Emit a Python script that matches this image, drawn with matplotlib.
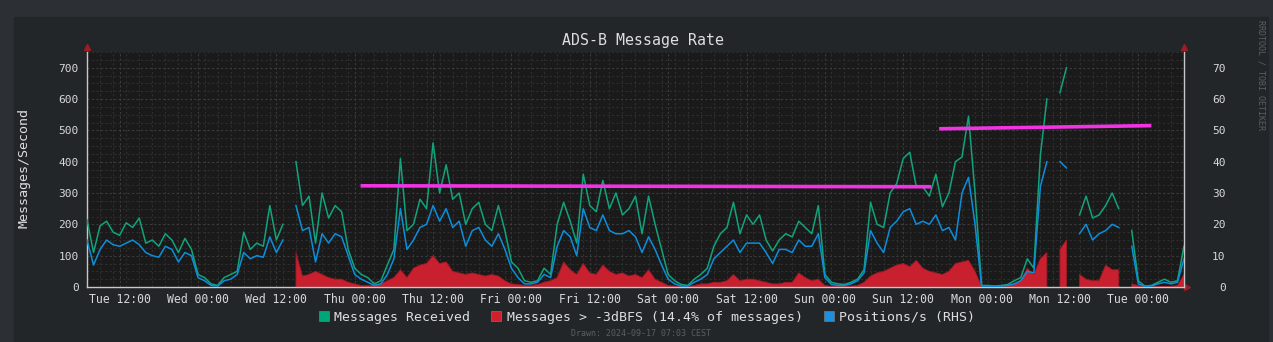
import numpy as np
import pandas as pd
import matplotlib
matplotlib.use('Agg')
import matplotlib.pyplot as plt
import matplotlib.dates as mdates
from matplotlib.patches import Rectangle, Patch
from matplotlib.ticker import MultipleLocator

nan = np.nan

# hourly samples, Tue 2024-09-10 07:00 -> Tue 2024-09-17 07:00
times = pd.date_range('2024-09-10 07:00', periods=169, freq='h')

# Messages Received (msg/s, LHS)
msgs_received = [
    215, 110, 195, 210, 175, 165, 205, 190, 220, 140,
    150, 130, 170, 150, 110, 155, 120, 40, 30, 10,
    5, 30, 40, 50, 175, 120, 140, 130, 260, 150,
    200, nan, 400, 260, 290, 140, 300, 220, 260, 240,
    120, 60, 40, 30, 10, 20, 70, 120, 410, 180,
    200, 280, 250, 460, 300, 390, 280, 300, 200, 250,
    270, 200, 180, 260, 180, 80, 60, 20, 15, 20,
    60, 40, 200, 270, 210, 140, 360, 260, 240, 340,
    250, 300, 230, 250, 290, 170, 290, 200, 120, 40,
    20, 8, 5, 25, 40, 60, 130, 170, 190, 270,
    170, 230, 200, 230, 150, 115, 150, 170, 160, 210,
    190, 170, 260, 40, 15, 10, 8, 15, 25, 55,
    270, 200, 190, 300, 330, 410, 430, 320, 320, 290,
    360, 256, 300, 400, 415, 545, 300, 5, 5, 3,
    5, 8, 20, 30, 90, 60, 420, 600, nan, 620,
    700, nan, 230, 290, 220, 230, 260, 300, 250, nan,
    180, 20, 3, 5, 15, 25, 15, 20, 130,
]

# Messages > -3dBFS (msg/s, LHS)
msgs_strong = [
    nan, nan, nan, nan, nan, nan, nan, nan, nan, nan,
    nan, nan, nan, nan, nan, nan, nan, nan, nan, nan,
    nan, nan, nan, nan, nan, nan, nan, nan, nan, nan,
    nan, nan, 110, 35, 40, 50, 40, 30, 25, 25,
    15, 10, 5, 5, 5, 10, 20, 30, 55, 30,
    60, 70, 75, 100, 75, 80, 50, 45, 40, 45,
    40, 35, 40, 35, 20, 10, 8, 5, 5, 8,
    15, 20, 30, 80, 55, 40, 75, 45, 40, 70,
    50, 40, 45, 35, 40, 30, 55, 25, 15, 5,
    3, 2, 2, 5, 10, 10, 15, 15, 20, 40,
    20, 25, 25, 20, 15, 10, 10, 15, 15, 45,
    30, 20, 25, 5, 2, 2, 3, 3, 5, 15,
    35, 45, 50, 60, 70, 75, 65, 85, 60, 50,
    45, 40, 50, 75, 80, 85, 50, 3, 0, 0,
    0, 2, 10, 20, 60, 40, 90, 110, nan, 120,
    150, nan, 40, 25, 20, 20, 70, 55, 55, nan,
    10, 5, 0, 0, 0, 2, 2, 5, 40,
]

# Positions/s (RHS)
positions = [
    15.0, 7.0, 12.0, 15.0, 13.5, 13.0, 14.0, 15.0, 13.5, 11.0,
    10.0, 9.5, 13.0, 12.0, 8.0, 11.0, 10.0, 3.0, 2.0, 0.5,
    0.3, 2.0, 2.5, 4.0, 11.0, 9.0, 10.0, 9.5, 16.0, 11.0,
    15.0, nan, 26.0, 18.0, 19.0, 8.0, 17.0, 14.0, 17.0, 16.0,
    10.0, 4.0, 2.5, 1.5, 0.5, 1.0, 4.0, 9.0, 25.0, 12.0,
    15.0, 19.0, 20.0, 26.0, 21.0, 25.0, 19.0, 21.0, 13.0, 18.0,
    19.0, 15.0, 13.0, 17.0, 12.0, 6.0, 3.0, 1.0, 1.0, 1.5,
    4.0, 3.0, 13.0, 18.0, 16.0, 10.0, 25.0, 19.0, 18.0, 23.0,
    18.0, 17.0, 17.0, 18.0, 16.0, 11.0, 16.0, 12.0, 7.0, 2.5,
    1.0, 0.3, 0.3, 1.5, 2.5, 4.0, 9.0, 11.0, 13.0, 15.0,
    11.0, 14.0, 14.0, 14.0, 11.0, 7.5, 12.0, 12.0, 11.0, 15.0,
    13.0, 13.0, 17.0, 3.0, 0.8, 0.5, 0.5, 1.0, 2.0, 4.5,
    18.0, 14.0, 11.0, 19.0, 21.0, 24.0, 25.0, 20.0, 21.0, 20.0,
    23.0, 18.0, 19.0, 15.0, 30.0, 35.0, 20.0, 0.3, 0.3, 0.2,
    0.3, 0.5, 1.0, 2.0, 5.0, 4.5, 32.0, 40.0, nan, 40.0,
    38.0, nan, 17.0, 20.0, 15.0, 17.0, 18.0, 20.0, 19.0, nan,
    13.0, 1.0, 0.2, 0.3, 1.0, 1.5, 1.0, 1.5, 9.0,
]

# trend segments (magenta)
trend1_t = pd.to_datetime(['2024-09-12 00:54', '2024-09-15 16:18'])
trend1_v = [323, 320]
trend2_t = pd.to_datetime(['2024-09-15 17:30', '2024-09-17 02:00'])
trend2_v = [505, 515]

W, H = 1273, 342
plt.rcParams['font.family'] = ['DejaVu Sans Mono']

fig = plt.figure(figsize=(W / 100, H / 100), dpi=100, facecolor='#2c3035')
fig.patches.append(Rectangle((14 / W, 0), (1268 - 14) / W, 1 - 17 / H,
                             transform=fig.transFigure, color='#232629', zorder=-5))

ax = fig.add_axes([87 / W, 1 - 287 / H, (1184 - 87) / W, (287 - 52) / H])
ax.set_facecolor('#1a1a1a')

ax.fill_between(times, 0, msgs_strong, color='#c8202e', lw=0.6, edgecolor='#9e1a26', zorder=2)
ax.plot(times, msgs_received, color='#11a37c', lw=1.1, zorder=3)
ax.plot(trend1_t, trend1_v, color='#f233e4', lw=2.6, zorder=5, solid_capstyle='butt')
ax.plot(trend2_t, trend2_v, color='#f233e4', lw=2.6, zorder=5, solid_capstyle='butt')

ax.set_ylim(0, 750)
ax.set_xlim(times[0], times[-1])
ax.yaxis.set_major_locator(MultipleLocator(100))
ax.yaxis.set_minor_locator(MultipleLocator(25))
ax.xaxis.set_major_locator(mdates.HourLocator(byhour=[0, 12]))
ax.xaxis.set_minor_locator(mdates.HourLocator(interval=2))
ax.xaxis.set_major_formatter(mdates.DateFormatter('%a %H:%M'))

ax.grid(which='minor', color='#2e2e2e', lw=0.8, ls=(0, (2, 2)))
ax.grid(which='major', color='#3c3c3c', lw=0.8, ls=(0, (2, 2)))
ax.set_axisbelow(True)

ax2 = ax.twinx()
ax2.plot(times, positions, color='#0b8fdc', lw=1.1, zorder=4)
ax2.set_ylim(0, 75)
ax2.yaxis.set_major_locator(MultipleLocator(10))

for a in (ax, ax2):
    for s in a.spines.values():
        s.set_visible(False)
ax.spines['left'].set_visible(True)
ax.spines['bottom'].set_visible(True)
ax2.spines['right'].set_visible(True)
for s in (ax.spines['left'], ax.spines['bottom'], ax2.spines['right']):
    s.set_color('#c8c8c8')
    s.set_linewidth(1)

ax.tick_params(axis='y', which='both', length=0, pad=6, labelsize=8, labelcolor='#d8d8d8')
ax.tick_params(axis='x', which='both', length=0, pad=4, labelsize=8.3, labelcolor='#d8d8d8')
ax2.tick_params(axis='y', which='both', length=0, pad=30, labelsize=8, labelcolor='#d8d8d8')
for lab in ax2.get_yticklabels():
    lab.set_ha('right')

# small red arrow heads at axis ends
arrow_c = '#a01c22'
ax.plot([0], [1.02], marker='^', ms=4, color=arrow_c, transform=ax.transAxes, clip_on=False)
ax.plot([1], [1.02], marker='^', ms=4, color=arrow_c, transform=ax.transAxes, clip_on=False)
ax.plot([1.003], [0], marker='>', ms=4, color=arrow_c, transform=ax.transAxes, clip_on=False)

fig.text(642.5 / W, 1 - 41 / H, 'ADS-B Message Rate', ha='center', va='center',
         fontsize=10.7, color='#dedede')
fig.text(24 / W, 1 - 168 / H, 'Messages/Second', ha='center', va='center',
         rotation=90, fontsize=9.6, color='#dedede')
fig.text(1261 / W, 1 - 75 / H, 'RRDTOOL / TOBI OETIKER', ha='center', va='center',
         rotation=270, fontsize=6, color='#5a5f64')
fig.text(641 / W, 1 - 333 / H, 'Drawn: 2024-09-17 07:03 CEST', ha='center', va='center',
         fontsize=6, color='#5a5f64')

handles = [Patch(facecolor='#00a67a', edgecolor='#777777', lw=0.5, label='Messages Received'),
           Patch(facecolor='#d11f2e', edgecolor='#777777', lw=0.5, label='Messages > -3dBFS (14.4% of messages)'),
           Patch(facecolor='#1b8fe0', edgecolor='#777777', lw=0.5, label='Positions/s (RHS)')]
leg = fig.legend(handles=handles, loc='center', bbox_to_anchor=(647 / W, 1 - 317 / H), ncol=3,
                 frameon=False, fontsize=9.5, handlelength=0.75, handleheight=0.75,
                 handletextpad=0.4, columnspacing=1.6, labelcolor='#dedede')

fig.savefig('out.png', dpi=100, facecolor=fig.get_facecolor())
